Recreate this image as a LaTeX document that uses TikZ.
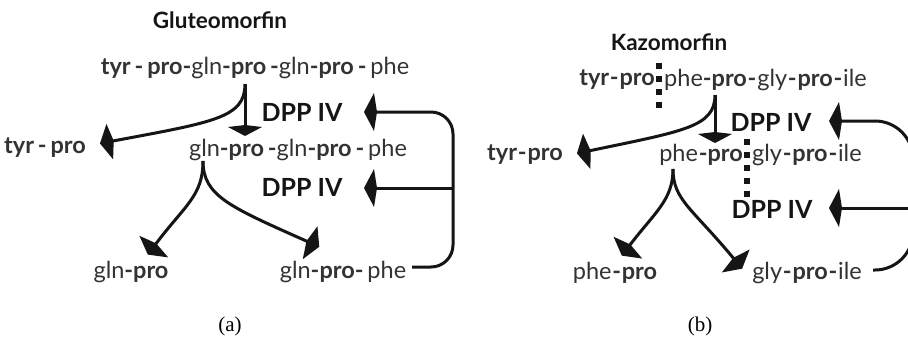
\documentclass[tikz,border=0pt]{standalone}
\usepackage{fontspec}
\setmainfont{Lato}
\newfontfamily\capfont{Liberation Serif}
\usetikzlibrary{arrows.meta}
\definecolor{ink}{HTML}{151515}
\definecolor{seqgray}{HTML}{333333}
\newcommand\bAA[1]{{\bfseries #1}}
\newcommand\hs{\kern0.8pt}
\begin{document}
\begin{tikzpicture}[x=1pt,y=-1pt,
  conn/.style={line width=3pt, draw=ink},
  kitetip/.style={-{Kite[length=14pt,width=36pt,inset=4pt,sep=3pt]}},
  dpptip/.style={-{Kite[length=13pt,width=38pt,inset=3pt,sep=6pt]}},
  downtip/.style={-{Kite[length=11pt,width=34pt,inset=2pt]}},
  seq/.style={font=\fontsize{23.5}{26}\selectfont, text=seqgray, inner sep=0pt},
  enz/.style={font=\fontsize{25}{28}\selectfont\bfseries, text=ink, inner sep=0pt},
  ttl/.style={font=\fontsize{22.5}{26}\selectfont\bfseries, text=ink, inner sep=0pt},
  captext/.style={font=\capfont\fontsize{21}{24}\selectfont, inner sep=0pt},
  cut/.style={line width=6pt, draw=ink, dash pattern=on 6pt off 7pt},
]
\useasboundingbox (0,0) rectangle (908,351);
\fill[white] (0,0) rectangle (908,351);
\clip (0,0) rectangle (908,351);

% ---------------- (a) Gluteomorfin ----------------
\node[ttl] (a-title) at (220,20) {Gluteomorfin};
\node[seq] (a-l1) at (255,68) {\bAA{tyr\,-\,pro-}gln\bAA{-pro\,-}gln\bAA{-pro\,-\,}phe};
\node[seq] (a-tp) at (45,148) {\bAA{tyr\,-\,pro}};
\node[seq] (a-l2) at (298,150) {gln\bAA{-pro\,-}gln\bAA{-pro\,-\,}phe};
\node[enz] (a-e1) at (302,112) {DPP IV};
\node[enz] (a-e2) at (302,187) {DPP IV};
\node[seq] (a-gp) at (131,272) {gln\bAA{-pro}};
\node[seq] (a-gpf) at (343,272) {gln\bAA{-pro-\,}phe};

\coordinate (a-f1) at (245,84);
\coordinate (a-d1) at (245,136);
\coordinate (a-k0) at (97,144);
\coordinate (a-f2) at (203,161);
\coordinate (a-kl) at (146,257);
\coordinate (a-kr) at (322,248);
\coordinate (a-k1) at (358,112);
\coordinate (a-k2) at (358,188);
\coordinate (a-j) at (453,188);
\coordinate (a-le) at (412,267);

\draw[conn,downtip] (a-f1) -- (a-d1);
\draw[conn,kitetip] (a-f1) .. controls (245,118) and (214,122) .. (a-k0);
\draw[conn,kitetip] (a-f2) .. controls (203,196) and (185,205) .. (a-kl);
\draw[conn,kitetip] (a-f2) .. controls (203,196) and (230,207) .. (a-kr);
\draw[conn,dpptip,rounded corners=22pt] (a-le) -| (453,112) -- (a-k1);
\draw[conn,dpptip] (a-j) -- (a-k2);

% ---------------- (b) Kazomorfin ----------------
\node[ttl] (b-title) at (669,42) {Kazomorfin};
\node[seq,anchor=east] (b-l1a) at (655,80) {\bAA{tyr\hs-\hs pro}};
\node[seq,anchor=west] (b-l1b) at (664,80) {phe\bAA{-pro\hs-\hs}gly\bAA{\hs-\hs pro\hs-\hs}ile};
\node[seq] (b-tp) at (525,155) {\bAA{tyr\hs-\hs pro}};
\node[seq,anchor=east] (b-l2a) at (743,155) {phe\hs\bAA{-pro}};
\node[seq,anchor=west] (b-l2b) at (752,155) {gly\bAA{\hs-\hs pro\hs-\hs}ile};
\node[enz] (b-e1) at (771,122) {DPP IV};
\node[enz] (b-e2) at (772,209) {DPP IV};
\node[seq] (b-pp) at (615,273) {phe\bAA{\hs-\hs pro}};
\node[seq] (b-gpi) at (807,273) {gly\bAA{\hs-\hs pro\hs-\hs}ile};

\coordinate (b-f1) at (715,95);
\coordinate (b-d1) at (715,143);
\coordinate (b-k0) at (574,154);
\coordinate (b-f2) at (673,169);
\coordinate (b-kl) at (620,258);
\coordinate (b-kr) at (744,271);
\coordinate (b-k1) at (823,121);
\coordinate (b-k2) at (823,208);
\coordinate (b-j) at (913,208);
\coordinate (b-le) at (873,270);

\draw[cut] (659,63) -- (659,111);
\draw[cut] (747,139) -- (747,197);

\draw[conn,downtip] (b-f1) -- (b-d1);
\draw[conn,kitetip] (b-f1) .. controls (715,127) and (684,131) .. (b-k0);
\draw[conn,kitetip] (b-f2) .. controls (673,200) and (655,212) .. (b-kl);
\draw[conn,kitetip] (b-f2) .. controls (673,200) and (692,208) .. (b-kr);
\draw[conn,dpptip,rounded corners=38pt] (b-le) -| (913,121) -- (b-k1);
\draw[conn,dpptip] (b-j) -- (b-k2);

% ---------------- captions ----------------
\node[captext] (cap-a) at (230,326) {(a)};
\node[captext] (cap-b) at (700,326) {(b)};
\end{tikzpicture}
\end{document}
